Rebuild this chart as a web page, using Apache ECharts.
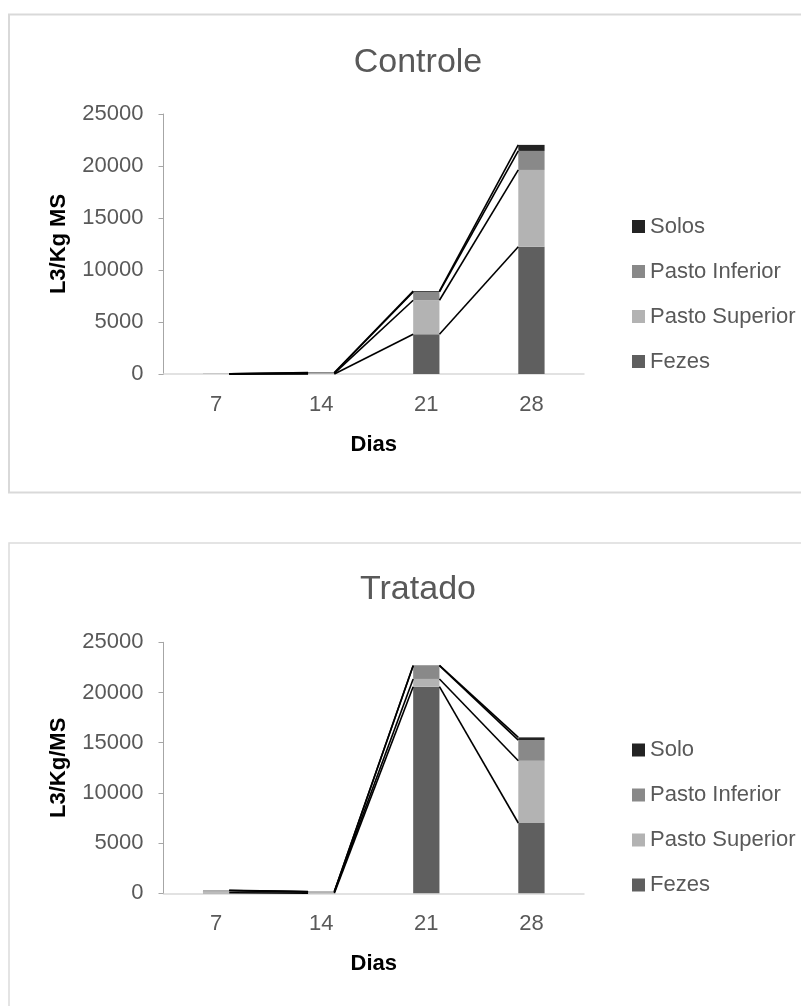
<!DOCTYPE html>
<html>
<head>
<meta charset="utf-8">
<script src="https://cdn.jsdelivr.net/npm/echarts@6/dist/echarts.min.js"></script>
<style>
  html, body { margin: 0; padding: 0; background: #fff; overflow: hidden; }
  #c { width: 801px; height: 1006px; }
</style>
</head>
<body>
<div id="c"></div>
<script>
// Dias de coleta (eixo X)
const dias = ['7', '14', '21', '28'];
const yMax = 25000;
const yStep = 5000;

// Controle: L3/Kg MS por compartimento
const ctrlFezes = [0, 0, 3820, 12240];
const ctrlPastoSuperior = [10, 60, 3270, 7380];
const ctrlPastoInferior = [0, 40, 800, 1830];
const ctrlSolos = [10, 50, 80, 580];

// Tratado: L3/Kg/MS por compartimento
const tratFezes = [50, 20, 20580, 7000];
const tratPastoSuperior = [200, 120, 770, 6200];
const tratPastoInferior = [30, 20, 1320, 2060];
const tratSolo = [20, 20, 30, 270];

const colors = { fezes: '#5f5f5f', sup: '#b3b3b3', inf: '#898989', solo: '#232323' };
const txt = '#595959';
const font = '"Liberation Sans", Arial, sans-serif';
const barFrac = 0.25;

function panel(idx, stacks, names) {
  const series = [];
  stacks.forEach((vals, k) => {
    series.push({
      type: 'bar', name: names[k], stack: 'p' + idx,
      xAxisIndex: idx, yAxisIndex: idx,
      barWidth: (barFrac * 100) + '%',
      itemStyle: { color: [colors.fezes, colors.sup, colors.inf, colors.solo][k] },
      data: vals
    });
  });
  // cumulative tops for the series lines between neighbouring columns
  const cum = [];
  let run = dias.map(() => 0);
  stacks.forEach(vals => {
    run = run.map((r, i) => r + vals[i]);
    cum.push(run.slice());
  });
  const segs = [];
  cum.forEach(level => {
    for (let i = 0; i < dias.length - 1; i++) segs.push([i, level[i], i + 1, level[i + 1]]);
  });
  series.push({
    type: 'custom', name: 'linhas' + idx,
    xAxisIndex: idx, yAxisIndex: idx, z: 5,
    encode: { x: [0, 2], y: [1, 3] },
    silent: true,
    renderItem: function (params, api) {
      const p1 = api.coord([api.value(0), api.value(1)]);
      const p2 = api.coord([api.value(2), api.value(3)]);
      const half = api.size([1, 0])[0] * barFrac / 2;
      return {
        type: 'line',
        shape: { x1: p1[0] + half, y1: p1[1], x2: p2[0] - half, y2: p2[1] },
        style: { stroke: '#000', lineWidth: 1.6 }
      };
    },
    data: segs
  });
  return series;
}

function xAxis(idx) {
  return {
    type: 'category', gridIndex: idx, data: dias,
    name: 'Dias', nameLocation: 'middle', nameGap: 60,
    nameTextStyle: { fontFamily: font, fontSize: 22, fontWeight: 'bold', color: '#000' },
    axisLine: { lineStyle: { color: '#d9d9d9', width: 1.5 } },
    axisTick: { show: false },
    axisLabel: { fontFamily: font, fontSize: 22, color: txt, margin: 20 }
  };
}
function yAxis(idx, name) {
  return {
    type: 'value', gridIndex: idx, min: 0, max: yMax, interval: yStep,
    name: name, nameLocation: 'middle', nameGap: 94,
    nameTextStyle: { fontFamily: font, fontSize: 22, fontWeight: 'bold', color: '#000' },
    axisLine: { show: true, lineStyle: { color: '#a6a6a6', width: 1 } },
    axisTick: { show: true, length: 5, lineStyle: { color: '#a6a6a6' } },
    splitLine: { show: false },
    axisLabel: { fontFamily: font, fontSize: 22, color: txt, margin: 20,
      formatter: v => String(v) }
  };
}
function legend(top, first) {
  return {
    orient: 'vertical', left: 627, top: top,
    itemWidth: 13, itemHeight: 13, itemGap: 23, icon: 'rect',
    textStyle: { fontFamily: font, fontSize: 22, color: txt, lineHeight: 22 },
    data: [first, 'Pasto Inferior', 'Pasto Superior', 'Fezes']
  };
}

const chart = echarts.init(document.getElementById('c'), null, { renderer: 'canvas' });
chart.setOption({
  animation: false,
  backgroundColor: '#fff',
  graphic: [
    { type: 'rect', shape: { x: 9, y: 14.5, width: 830, height: 478 }, style: { fill: 'none', stroke: '#d9d9d9', lineWidth: 2 }, silent: true },
    { type: 'rect', shape: { x: 9, y: 543, width: 830, height: 500 }, style: { fill: 'none', stroke: '#dcdcdc', lineWidth: 1.5 }, silent: true }
  ],
  title: [
    { text: 'Controle', left: 413, top: 41, textAlign: 'center',
      textStyle: { fontFamily: font, fontSize: 34, fontWeight: 'normal', color: txt } },
    { text: 'Tratado', left: 413, top: 568, textAlign: 'center',
      textStyle: { fontFamily: font, fontSize: 34, fontWeight: 'normal', color: txt } }
  ],
  legend: [legend(210.5, 'Solos'), legend(734, 'Solo')],
  grid: [
    { left: 163.5, right: 217, top: 114, height: 260 },
    { left: 163.5, right: 217, top: 642.3, height: 251 }
  ],
  xAxis: [xAxis(0), xAxis(1)],
  yAxis: [yAxis(0, 'L3/Kg MS'), yAxis(1, 'L3/Kg/MS')],
  series: [
    ...panel(0, [ctrlFezes, ctrlPastoSuperior, ctrlPastoInferior, ctrlSolos], ['Fezes', 'Pasto Superior', 'Pasto Inferior', 'Solos']),
    ...panel(1, [tratFezes, tratPastoSuperior, tratPastoInferior, tratSolo], ['Fezes', 'Pasto Superior', 'Pasto Inferior', 'Solo'])
  ]
});
</script>
</body>
</html>
